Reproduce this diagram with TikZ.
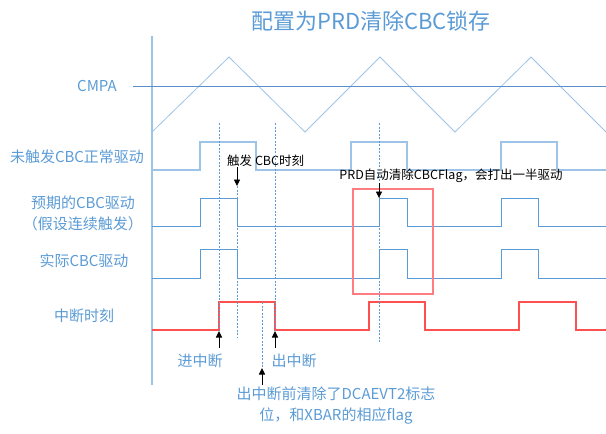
\documentclass[tikz,border=0pt]{standalone}
\usepackage{fontspec}
\setmainfont{Noto Sans CJK SC}
\usetikzlibrary{arrows.meta}
\definecolor{lblue}{HTML}{5B9BD5}
\definecolor{pblue}{HTML}{9DC3E6}
\definecolor{dblue}{HTML}{5B8FCB}
\definecolor{sigred}{HTML}{FF5050}
\definecolor{boxred}{HTML}{FF7C80}

\begin{document}
\begin{tikzpicture}[x=1pt, y=-1pt,
    lbl/.style={text=lblue, font=\fontsize{15}{18}\selectfont, inner sep=0pt},
    note/.style={text=black, font=\fontsize{12.5}{15}\selectfont, inner sep=0pt},
    wave/.style={lblue, line width=1pt},
    tickline/.style={lblue, line width=1pt, dash pattern=on 2pt off 1.5pt},
    arrow/.style={-{Triangle[length=6.5pt, width=6pt]}, line width=0.9pt}
]
\useasboundingbox (0,0) rectangle (606,434);

% Title
\node[lbl, font=\fontsize{22}{26}\selectfont] (title) at (371,21) {配置为PRD清除CBC锁存};

% Axis, carrier and CMPA
\draw[pblue, line width=1.5pt] (152,36) -- (152,385);
\draw[pblue, line width=0.8pt] (152,132) -- (229,57) -- (305,132) -- (380,57) -- (455,132) -- (531,57) -- (606,132);
\draw[dblue, line width=1pt] (133,86) -- (606,86);

% Row labels
\node[lbl] (cmpa) at (97,86) {CMPA};
\node[lbl] (normal) at (77,157) {未触发CBC正常驱动};
\node[lbl] (expect) at (83,203) {预期的CBC驱动};
\node[lbl] (assume) at (83,224) {（假设连续触发）};
\node[lbl] (actual) at (84,261) {实际CBC驱动};
\node[lbl] (isr) at (84,316) {中断时刻};

% Waveforms
\draw[pblue, line width=1.3pt] (152,170) -- (200,170) -- (200,142) -- (256,142) -- (256,170) -- (351,170) -- (351,142) -- (407,142) -- (407,170) -- (501,170) -- (501,142) -- (557,142) -- (557,170) -- (606,170);
\draw[wave] (152,226) -- (200,226) -- (200,198) -- (237,198) -- (237,226) -- (379,226) -- (379,198) -- (407,198) -- (407,226) -- (501,226) -- (501,198) -- (538,198) -- (538,226) -- (606,226);
\draw[wave] (152,278) -- (200,278) -- (200,249) -- (237,249) -- (237,278) -- (379,278) -- (379,249) -- (407,249) -- (407,278) -- (501,278) -- (501,249) -- (538,249) -- (538,278) -- (606,278);
\draw[sigred, line width=1.3pt] (152,330) -- (219,330) -- (219,302) -- (275,302) -- (275,330) -- (369,330) -- (369,302) -- (425,302) -- (425,330) -- (519,330) -- (519,302) -- (576,302) -- (576,330) -- (606,330);

% Red box round the PRD clear
\draw[boxred, line width=1.5pt] (353,189) rectangle (433,294);

% Annotations
\node[note, anchor=west] (trig) at (227,161) {触发 CBC时刻};
\coordinate (trigtip) at (237,186);
\node[note] (prd) at (451,176) {PRD自动清除CBCFlag，会打出一半驱动};
\coordinate (prdtip) at (379,198);

\node[lbl] (enter) at (200,361) {进中断};
\node[lbl] (leave) at (294,361) {出中断};
\node[lbl] (clear1) at (336,394) {出中断前清除了DCAEVT2标志};
\node[lbl] (clear2) at (336,416) {位，和XBAR的相应flag};
\coordinate (entertip) at (219,331);
\coordinate (leavetip) at (275,331);
\coordinate (cleartip) at (262,368);

% Dashed time marks
\draw[tickline] (219,123) -- (entertip);
\draw[tickline] (trigtip) -- (237,338);
\draw[tickline] (275,123) -- (leavetip);
\draw[tickline] (262,302) -- (cleartip);
\draw[tickline] (379,123) -- (379,342);

% Arrows
\draw[arrow] (trig.south -| trigtip) -- (trigtip);
\draw[arrow] (prd.south -| prdtip) -- (prdtip);
\draw[arrow] (219,348) -- (entertip);
\draw[arrow] (275,348) -- (leavetip);
\draw[arrow] (262,385) -- (cleartip);

\end{tikzpicture}
\end{document}
